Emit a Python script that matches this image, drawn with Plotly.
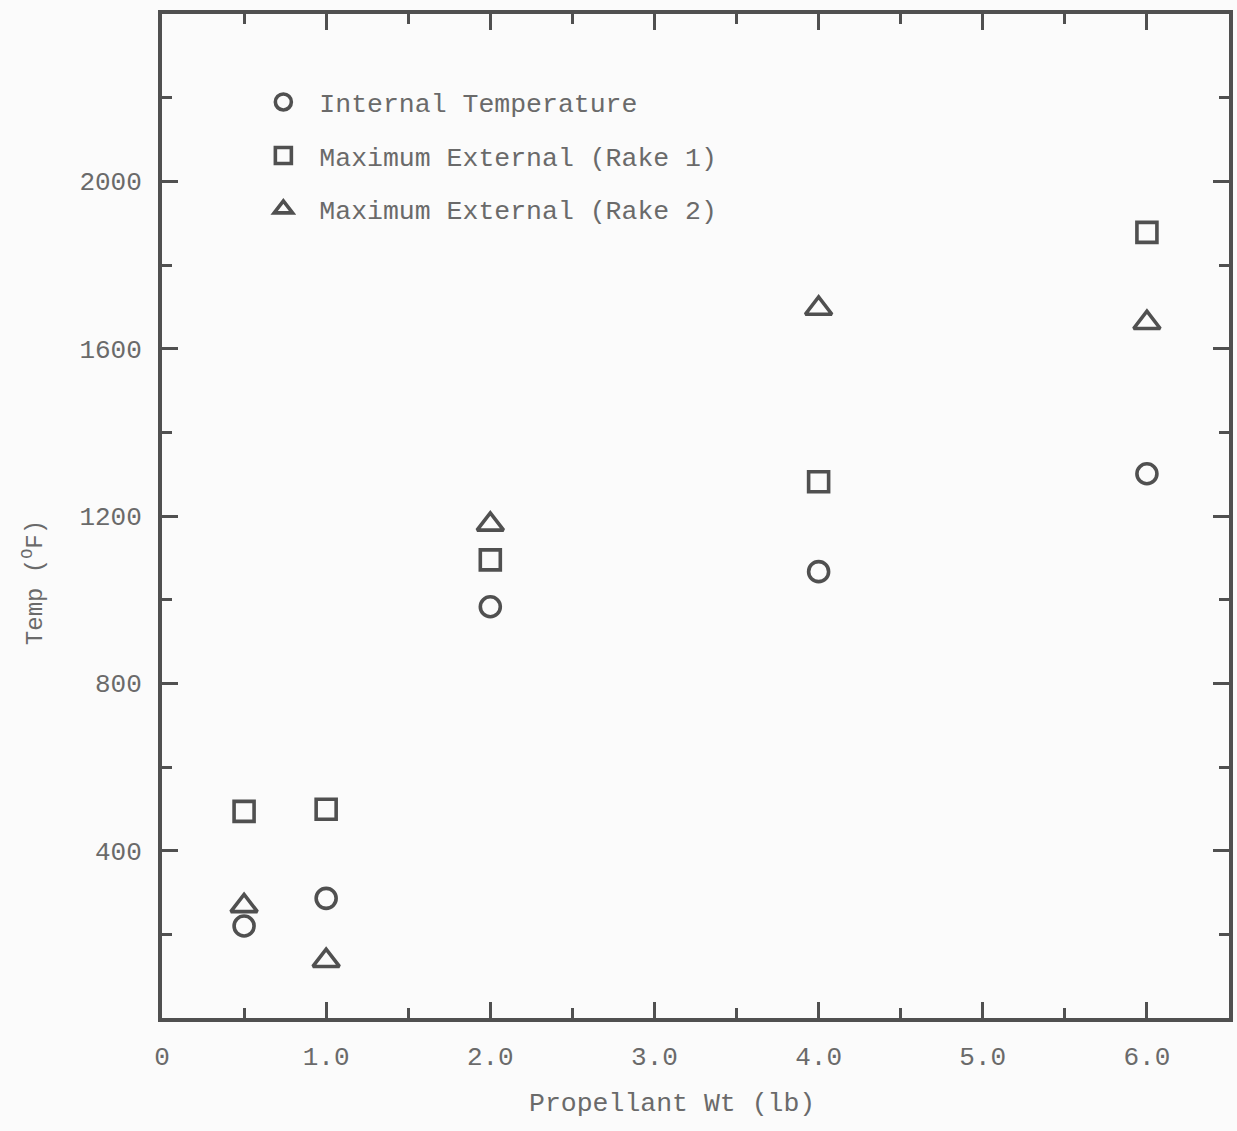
import plotly.graph_objects as go

prop_wt = [0.5, 1.0, 2.0, 4.0, 6.0]
internal_temp = [220, 286, 983, 1067, 1301]
max_ext_rake1 = [494, 499, 1095, 1282, 1878]
max_ext_rake2 = [268, 137, 1180, 1696, 1662]

x_tickvals = [0, 1, 2, 3, 4, 5, 6]
x_ticktext = ["0", "1.0", "2.0", "3.0", "4.0", "5.0", "6.0"]
y_tickvals = [400, 800, 1200, 1600, 2000]
y_ticktext = ["400", "800", "1200", "1600", "2000"]

INK = "#505050"
TXT = "#6a6a6a"
FONT = "Liberation Mono"

fig = go.Figure()
series = [
    ("Internal Temperature", internal_temp, "circle-open", 20),
    ("Maximum External (Rake 1)", max_ext_rake1, "square-open", 20),
    ("Maximum External (Rake 2)", max_ext_rake2, "triangle-up-open", 23),
]
for i, (name, vals, sym, sz) in enumerate(series):
    fig.add_trace(go.Scatter(
        x=prop_wt, y=vals, mode="markers", name=name, legendgroup=f"g{i}",
        marker=dict(symbol=sym, size=sz, color=INK, line=dict(width=3.6, color=INK)),
    ))

axis_common = dict(
    showline=True, linewidth=4, linecolor=INK, mirror="ticks",
    ticks="inside", ticklen=16, tickwidth=2.5, tickcolor=INK,
    showgrid=False, zeroline=False,
    tickfont=dict(family=FONT, size=26, color=TXT),
)
fig.update_xaxes(range=[0, 6.5], tickvals=x_tickvals, ticktext=x_ticktext,
                 minor=dict(dtick=0.5, tick0=0, ticks="inside", ticklen=10, tickwidth=2.5, tickcolor=INK),
                 ticklabelstandoff=12, **axis_common)
fig.update_yaxes(range=[0, 2400], tickvals=y_tickvals, ticktext=y_ticktext,
                 minor=dict(dtick=200, tick0=0, ticks="inside", ticklen=10, tickwidth=2.5, tickcolor=INK),
                 ticklabelstandoff=11, **axis_common)

fig.add_annotation(text="Propellant Wt (lb)", xref="paper", yref="paper", x=0.478, y=-0.086,
                   showarrow=False, font=dict(family=FONT, size=26.5, color=TXT), yanchor="middle")
fig.add_annotation(text="Temp (<sup>O</sup>F)", xref="paper", yref="paper", x=-0.121, y=0.434,
                   textangle=-90, showarrow=False, font=dict(family=FONT, size=24, color=TXT),
                   xanchor="center", yanchor="middle")

fig.update_layout(
    width=1237, height=1131,
    margin=dict(l=162, r=4, t=14, b=113),
    paper_bgcolor="#fbfbfb", plot_bgcolor="#fbfbfb",
    showlegend=True,
    legend=dict(x=0.080, y=0.936, xanchor="left", yanchor="top",
                bgcolor="rgba(0,0,0,0)", font=dict(family=FONT, size=26.5, color=TXT),
                traceorder="grouped", tracegroupgap=16, itemwidth=62),
)
fig.write_html("out.html")
